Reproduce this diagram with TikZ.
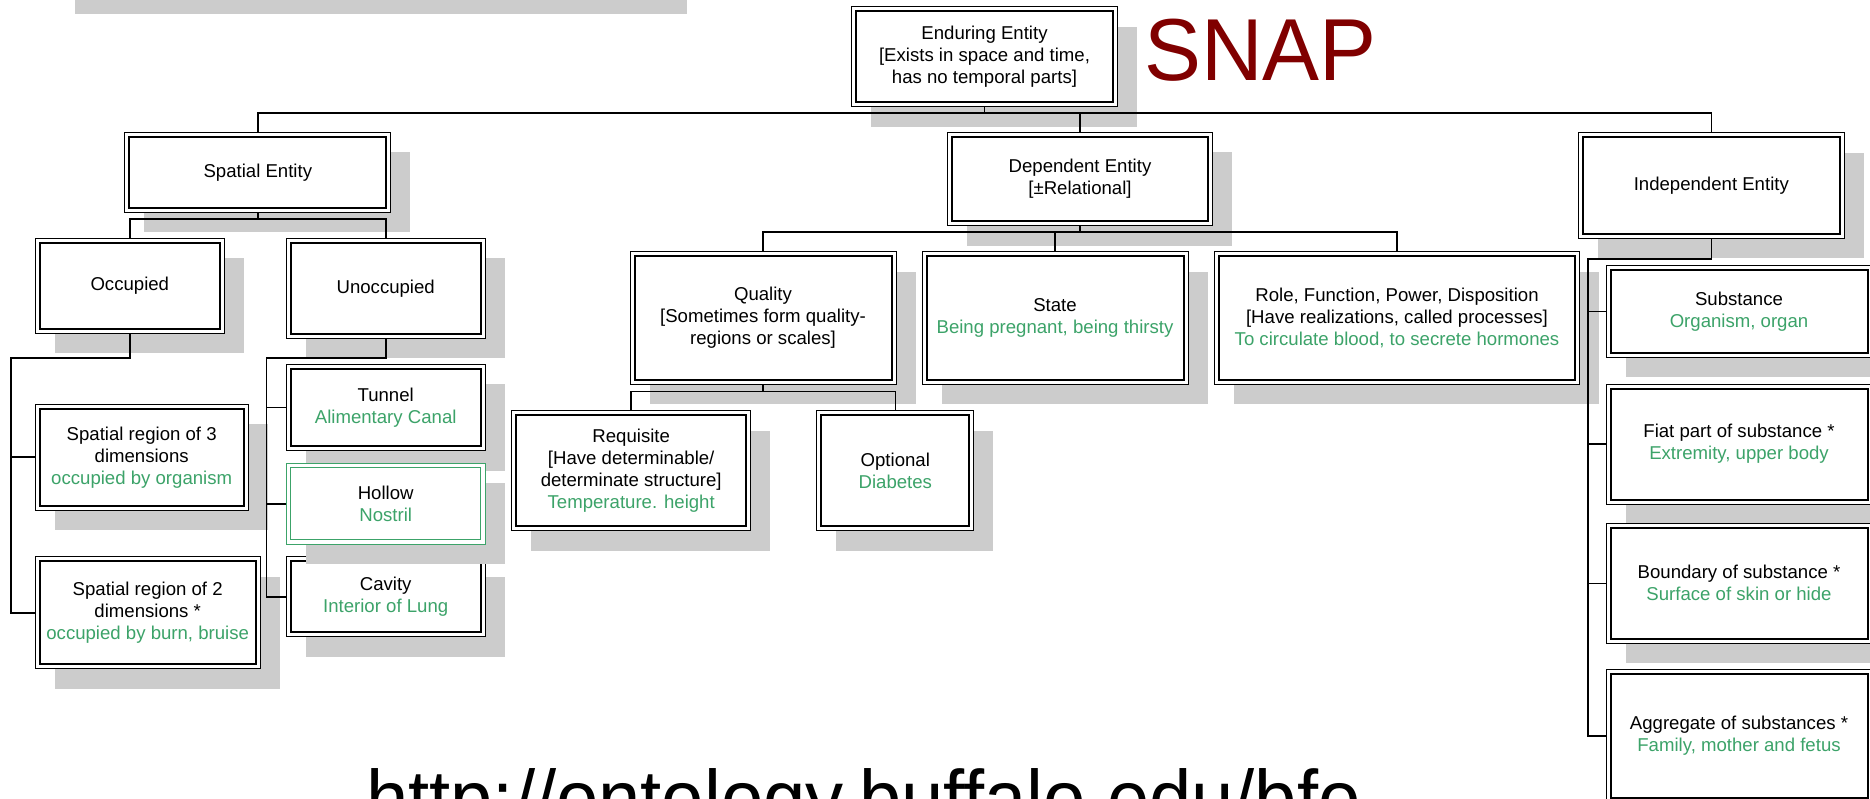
\documentclass[tikz,border=0pt]{standalone}
\usepackage{fontspec}
\setmainfont{Liberation Sans}
\usepackage{xcolor}
\usepackage{graphicx}
\usetikzlibrary{shadows}

\definecolor{egreen}{RGB}{60,163,105}
\definecolor{shadowgray}{RGB}{204,204,204}
\definecolor{snapred}{RGB}{128,0,0}
\newcommand{\egtext}[1]{\textcolor{egreen}{#1}}

\begin{document}
\begin{tikzpicture}[x=1pt, y=-1pt, font=\fontsize{18.6}{22}\selectfont]
    \tikzstyle{innerframe} = [line width=2pt]
    \tikzstyle{boxshadow} = [general shadow={fill=shadowgray, shadow xshift=19.5pt, shadow yshift=-20pt}]
    \tikzstyle{entity} = [rectangle, draw, line width=1pt, fill=white, align=center, inner sep=0pt, boxshadow,
        path picture={\draw[innerframe] ([shift={(4.5pt,4.5pt)}]path picture bounding box.south west) rectangle ([shift={(-4.5pt,-4.5pt)}]path picture bounding box.north east);}]
    \tikzstyle{link} = [line width=1.6pt]

    \useasboundingbox (0,0) rectangle (1870,799);
    \clip (0,0) rectangle (1870,799);
    \fill[white] (0,0) rectangle (1870,799);
    \fill[shadowgray] (75,0) rectangle (687,14);

    % Вузли
    \node[entity, minimum width=266pt, minimum height=100pt] (enduring) at (984.5,56.7) {Enduring Entity\\{}[Exists in space and time,\\has no temporal parts]};
    \node[entity, minimum width=265.7pt, minimum height=80pt] (spatial) at (257.8,172.3) {Spatial Entity};
    \node[entity, minimum width=265.4pt, minimum height=93.4pt] (dependent) at (1080,179) {Dependent Entity\\{}[±Relational]};
    \node[entity, minimum width=266pt, minimum height=105.6pt] (independent) at (1711.3,185.5) {Independent Entity};

    \node[entity, minimum width=189pt, minimum height=95pt] (occupied) at (129.8,285.8) {Occupied};
    \node[entity, minimum width=199.3pt, minimum height=100pt] (unoccupied) at (385.7,288.3) {Unoccupied};
    \node[entity, minimum width=212.7pt, minimum height=105.7pt] (region3) at (141.7,457.2) {Spatial region of 3\\dimensions\\\egtext{occupied by organism}};
    \node[entity, minimum width=224.7pt, minimum height=112.3pt] (region2) at (147.7,612.8) {Spatial region of 2\\dimensions *\\\egtext{occupied by burn, bruise}};
    \node[entity, minimum width=199.3pt, minimum height=86.4pt] (tunnel) at (385.7,407.5) {Tunnel\\\egtext{Alimentary Canal}};
    \node[entity, minimum width=199.3pt, minimum height=80pt] (cavity) at (385.7,596.7) {Cavity\\\egtext{Interior of Lung}};
    \node[entity, draw=egreen, innerframe/.style={draw=egreen, line width=1.2pt}, minimum width=199.3pt, minimum height=80.7pt] (hollow) at (385.7,503.7) {Hollow\\\egtext{Nostril}};

    \node[entity, minimum width=266pt, minimum height=132.6pt] (quality) at (763,318) {Quality\\{}[Sometimes form quality-\\regions or scales]};
    \node[entity, minimum width=266pt, minimum height=132.6pt] (state) at (1055,318) {State\\\egtext{Being pregnant, being thirsty}};
    \node[entity, minimum width=365.3pt, minimum height=132.6pt] (role) at (1397,318) {Role, Function, Power, Disposition\\{}[Have realizations, called processes]\\\egtext{To circulate blood, to secrete hormones}};
    \node[entity, minimum width=239pt, minimum height=119.7pt] (requisite) at (631.2,470.8) {Requisite\\{}[Have determinable/\\determinate structure]\\\egtext{Temperature. height}};
    \node[entity, minimum width=157.3pt, minimum height=119.7pt] (optional) at (895.3,470.8) {Optional\\\egtext{Diabetes}};

    \node[entity, minimum width=266pt, minimum height=91.6pt] (substance) at (1739,311.5) {Substance\\\egtext{Organism, organ}};
    \node[entity, minimum width=266pt, minimum height=120pt] (fiat) at (1739,444) {Fiat part of substance *\\\egtext{Extremity, upper body}};
    \node[entity, minimum width=266pt, minimum height=120pt] (boundary) at (1739,583.3) {Boundary of substance *\\\egtext{Surface of skin or hide}};
    \node[entity, minimum width=266pt, minimum height=133pt] (aggregate) at (1739,735.7) {Aggregate of substances *\\\egtext{Family, mother and fetus}};

    \node[anchor=base west, inner sep=0pt, text=snapred, font=\fontsize{88}{88}\selectfont] (snap) at (1144,81) {\scalebox{0.97}[1]{SNAP}};
    \node[anchor=base west, inner sep=0pt, font=\fontsize{80}{80}\selectfont] (url) at (366,826) {\scalebox{0.95}[1]{http://ontology.buffalo.edu/bfo}};

    % Зв'язки
    \coordinate (topbus) at ([yshift=-5.8pt]enduring.south);
    \draw[link] (enduring.south) -- (topbus);
    \draw[link] (spatial.north) |- (topbus) -| (independent.north);
    \draw[link] (topbus) -| (dependent.north);

    \coordinate (spbus) at ([yshift=-6.4pt]spatial.south);
    \draw[link] (spatial.south) -- (spbus);
    \draw[link] (occupied.north) |- (spbus) -| (unoccupied.north);

    \coordinate (occbus) at (11,357.7);
    \draw[link] (occupied.south) |- (occbus) |- (region3.west);
    \draw[link] (occbus) |- (region2.west);

    \coordinate (unbus) at (266.3,357.7);
    \draw[link] (unoccupied.south) |- (unbus) |- (tunnel.west);
    \draw[link] (unbus) |- (hollow.west);
    \draw[link] (unbus) |- (cavity.west);

    \coordinate (depbus) at ([yshift=-6pt]dependent.south);
    \draw[link] (dependent.south) -- (depbus);
    \draw[link] (quality.north) |- (depbus) -| (role.north);
    \draw[link] (depbus -| state.north) -- (state.north);

    \coordinate (qbus) at ([yshift=-6.7pt]quality.south);
    \draw[link] (quality.south) -- (qbus);
    \draw[link] (requisite.north) |- (qbus) -| (optional.north);

    \coordinate (indbus) at (1588,259.3);
    \draw[link] (independent.south) |- (indbus) |- (substance.west);
    \draw[link] (indbus) |- (fiat.west);
    \draw[link] (indbus) |- (boundary.west);
    \draw[link] (indbus) |- (aggregate.west);
\end{tikzpicture}
\end{document}
